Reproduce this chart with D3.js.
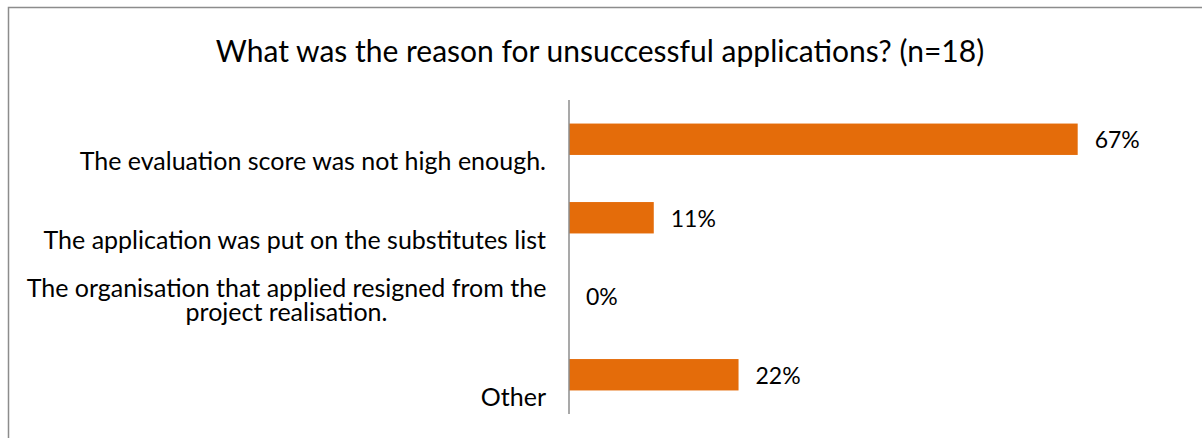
<!DOCTYPE html>
<html>
<head>
<meta charset="utf-8">
<script src="https://cdn.jsdelivr.net/npm/d3@7"></script>
<style>
  html, body { margin: 0; padding: 0; background: #fff; }
  svg { display: block; font-family: Lato, "Open Sans", sans-serif; }
</style>
</head>
<body>
<svg id="chart" width="1202" height="438"></svg>
<script>
const title = "What was the reason for unsuccessful applications? (n=18)";
const categories = [
  ["The evaluation score was not high enough."],
  ["The application was put on the substitutes list"],
  ["The organisation that applied resigned from the", "project realisation."],
  ["Other"]
];
const values = [0.6667, 0.1111, 0, 0.2222];

const W = 1202, H = 438;
const svg = d3.select("#chart");
const plotLeft = 569, plotTop = 100, plotBottom = 414;

// chart border
svg.append("rect")
  .attr("x", 8.5).attr("y", 7.5)
  .attr("width", W + 20).attr("height", H + 20)
  .attr("fill", "#fff").attr("stroke", "#8c8c8c").attr("stroke-width", 1.5);

// title
svg.append("text")
  .attr("x", 600).attr("y", 62)
  .attr("text-anchor", "middle")
  .attr("font-size", 30)
  .attr("fill", "#000")
  .text(title);

const idx = d3.range(categories.length);
const x = d3.scaleLinear().domain([0, 0.8]).range([plotLeft, plotLeft + 0.8 * 763]);
const y = d3.scaleBand().domain(idx).range([plotTop, plotBottom]).paddingInner(0.6).paddingOuter(0.3);

// bars
svg.append("g").selectAll("rect")
  .data(idx)
  .join("rect")
  .attr("x", x(0))
  .attr("y", i => y(i))
  .attr("width", i => x(values[i]) - x(0))
  .attr("height", y.bandwidth())
  .attr("fill", "#E46C0A");

// value labels
const fmt = d3.format(".0%");
svg.append("g").selectAll("text")
  .data(idx)
  .join("text")
  .attr("x", i => x(values[i]) + 17)
  .attr("y", i => y(i) + y.bandwidth() / 2 + 9)
  .attr("font-size", 23)
  .attr("fill", "#000")
  .text(i => fmt(values[i]));

// category axis line
const yAxis = d3.axisLeft(y).tickSize(0).tickFormat("");
const ax = svg.append("g").attr("transform", `translate(${plotLeft},0)`).call(yAxis);
ax.select(".domain").attr("stroke", "#8c8c8c").attr("stroke-width", 1.5)
  .attr("d", `M0,${plotTop}V${plotBottom}`);

// category labels
const labelG = svg.append("g");
idx.forEach(i => {
  const lines = categories[i];
  const n = lines.length;
  const cy = y(i) + y.bandwidth() / 2;
  const maxW = 546 - 27;
  lines.forEach((ln, k) => {
    labelG.append("text")
      .attr("font-size", 25)
      .attr("fill", "#000")
      .attr("y", cy + 1 + (2 - n) * 30 + k * 24)
      .attr("x", n > 1 ? 546 - maxW / 2 : 546)
      .attr("text-anchor", n > 1 ? "middle" : "end")
      .text(ln);
  });
});
</script>
</body>
</html>
